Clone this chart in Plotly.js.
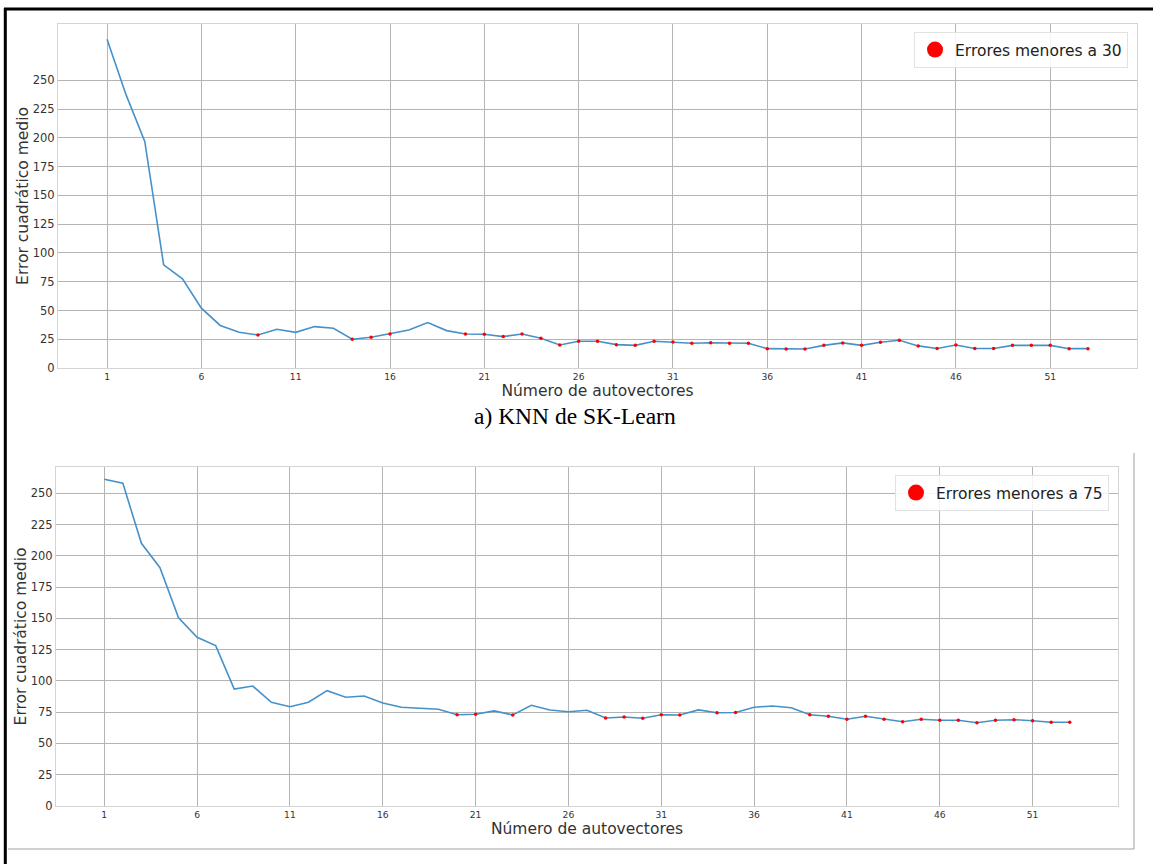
<!DOCTYPE html>
<html>
<head>
<meta charset="utf-8">
<script src="https://cdn.plot.ly/plotly-3.0.1.min.js"></script>
<style>html,body{margin:0;padding:0;background:#fff;}#chart{width:1153px;height:864px;}</style>
</head>
<body>
<div id="chart"></div>
<script>
// ---- data ----
const autovectores = Array.from({length: 53}, (_, i) => i + 1);
const errorKNNTop = [285.7, 237.8, 197, 89.7, 77.5, 52, 37, 31, 28.7, 33.7,
  31, 36, 34.5, 25, 26.7, 29.6, 33, 39.5, 32.5, 29.6,
  29.3, 27.3, 29.6, 25.9, 20, 23.2, 23.2, 20.3, 19.7, 23.2,
  22.6, 21.5, 22, 21.5, 21.5, 16.8, 16.5, 16.5, 19.7, 21.8,
  19.7, 22.4, 24.1, 19.2, 17, 20, 17, 17, 19.7, 19.7,
  19.7, 16.8, 16.8];
const errorBottom = [261.2, 258, 210, 190.5, 150.5, 134.9, 128.2, 93.5, 95.9, 82.9,
  79.4, 82.9, 92.2, 86.9, 87.9, 82.3, 78.9, 78.4, 77.3, 73,
  73.3, 76, 72.8, 80.5, 76.8, 75.4, 76.5, 70.4, 71.2, 70.1,
  73, 72.8, 76.8, 74.6, 74.8, 78.9, 80, 78.6, 73, 71.7,
  69.3, 71.7, 69.3, 67.4, 69.3, 68.5, 68.5, 66.6, 68.5, 69,
  68.2, 66.9, 66.9];
const umbralTop = 30;
const umbralBottom = 75;
const xTickVals = [1, 6, 11, 16, 21, 26, 31, 36, 41, 46, 51];
const yTickVals = [0, 25, 50, 75, 100, 125, 150, 175, 200, 225, 250];
const legendTop = 'Errores menores a 30';
const legendBottom = 'Errores menores a 75';
const xTitle = 'Número de autovectores';
const yTitle = 'Error cuadrático medio';
const caption = 'a) KNN de SK-Learn';

// ---- helpers ----
function below(xs, ys, t) {
  const ox = [], oy = [];
  xs.forEach((x, i) => { if (ys[i] < t) { ox.push(x); oy.push(ys[i]); } });
  return {x: ox, y: oy};
}
const W = 1153, H = 864;
const px = v => v / W;
const py = v => 1 - v / H;

const lineColor = '#4591ca';
const gridColor = '#b4b4b4';
const tickFontY = {family: 'DejaVu Sans', size: 11.5, color: '#333333'};
const tickFontX = {family: 'DejaVu Sans', size: 9.2, color: '#333333'};
const titleFont = {family: 'DejaVu Sans', size: 15.5, color: '#333333'};

const rTop = below(autovectores, errorKNNTop, umbralTop);
const rBot = below(autovectores, errorBottom, umbralBottom);

const traces = [
  {x: autovectores, y: errorKNNTop, xaxis: 'x', yaxis: 'y', type: 'scatter', mode: 'lines',
   line: {color: lineColor, width: 1.6}, showlegend: false, hoverinfo: 'skip'},
  {x: rTop.x, y: rTop.y, xaxis: 'x', yaxis: 'y', type: 'scatter', mode: 'markers',
   marker: {color: '#ff0000', size: 3.5}, showlegend: false},
  {x: [null], y: [null], xaxis: 'x', yaxis: 'y', type: 'scatter', mode: 'markers',
   marker: {color: '#ff0000', size: 16}, name: legendTop, legend: 'legend', showlegend: true},
  {x: autovectores, y: errorBottom, xaxis: 'x2', yaxis: 'y2', type: 'scatter', mode: 'lines',
   line: {color: lineColor, width: 1.6}, showlegend: false, hoverinfo: 'skip'},
  {x: rBot.x, y: rBot.y, xaxis: 'x2', yaxis: 'y2', type: 'scatter', mode: 'markers',
   marker: {color: '#ff0000', size: 3.5}, showlegend: false},
  {x: [null], y: [null], xaxis: 'x2', yaxis: 'y2', type: 'scatter', mode: 'markers',
   marker: {color: '#ff0000', size: 16}, name: legendBottom, legend: 'legend2', showlegend: true}
];

function xAxis(domain, anchor, standoff) {
  return {domain: domain, anchor: anchor, range: [-1.6, 55.6], tickvals: xTickVals,
    ticks: '', showgrid: true, gridcolor: gridColor, gridwidth: 1, zeroline: false,
    showline: true, mirror: true, linecolor: '#d4d4d4', linewidth: 1,
    tickfont: tickFontX, automargin: false,
    title: {text: xTitle, font: titleFont, standoff: standoff}};
}
function yAxis(domain, anchor, top, standoff) {
  return {domain: domain, anchor: anchor, range: [0, top], tickvals: yTickVals,
    ticks: '', showgrid: true, gridcolor: gridColor, gridwidth: 1, zeroline: false,
    showline: true, mirror: true, linecolor: '#d4d4d4', linewidth: 1,
    tickfont: tickFontY, automargin: false,
    title: {text: yTitle, font: titleFont, standoff: standoff}};
}

const layout = {
  width: W, height: H,
  margin: {l: 0, r: 0, t: 0, b: 0},
  paper_bgcolor: '#ffffff', plot_bgcolor: '#ffffff',
  xaxis: xAxis([px(58), px(1137)], 'y', 2),
  yaxis: yAxis([py(368), py(24)], 'x', 299, 0),
  xaxis2: xAxis([px(56), px(1118)], 'y2', 3),
  yaxis2: yAxis([py(806), py(467)], 'x2', 271, 0),
  legend: {x: px(1128), y: py(32), xanchor: 'right', yanchor: 'top',
    bgcolor: 'rgba(255,255,255,0.85)', bordercolor: '#e2e2e2', borderwidth: 1,
    font: {family: 'DejaVu Sans', size: 15.5, color: '#222222'}, itemsizing: 'trace'},
  legend2: {x: px(1109), y: py(475), xanchor: 'right', yanchor: 'top',
    bgcolor: 'rgba(255,255,255,0.85)', bordercolor: '#e2e2e2', borderwidth: 1,
    font: {family: 'DejaVu Sans', size: 15.5, color: '#222222'}, itemsizing: 'trace'},
  annotations: [
    {text: caption, xref: 'paper', yref: 'paper', x: px(575), y: py(416),
     xanchor: 'center', yanchor: 'middle', showarrow: false,
     font: {family: 'Liberation Serif', size: 23.5, color: '#000000'}}
  ],
  shapes: [
    {type: 'line', xref: 'paper', yref: 'paper', x0: px(4), x1: 1, y0: py(9), y1: py(9),
     line: {color: '#000000', width: 3}},
    {type: 'line', xref: 'paper', yref: 'paper', x0: px(5.3), x1: px(5.3), y0: py(8), y1: 0,
     line: {color: '#000000', width: 3}},
    {type: 'line', xref: 'paper', yref: 'paper', x0: px(1134), x1: px(1134), y0: py(453), y1: py(849),
     line: {color: '#a0a0a0', width: 1}},
    {type: 'line', xref: 'paper', yref: 'paper', x0: px(8), x1: px(1134), y0: py(849), y1: py(849),
     line: {color: '#a0a0a0', width: 1}}
  ]
};

Plotly.newPlot('chart', traces, layout, {displayModeBar: false, staticPlot: true});
</script>
</body>
</html>
